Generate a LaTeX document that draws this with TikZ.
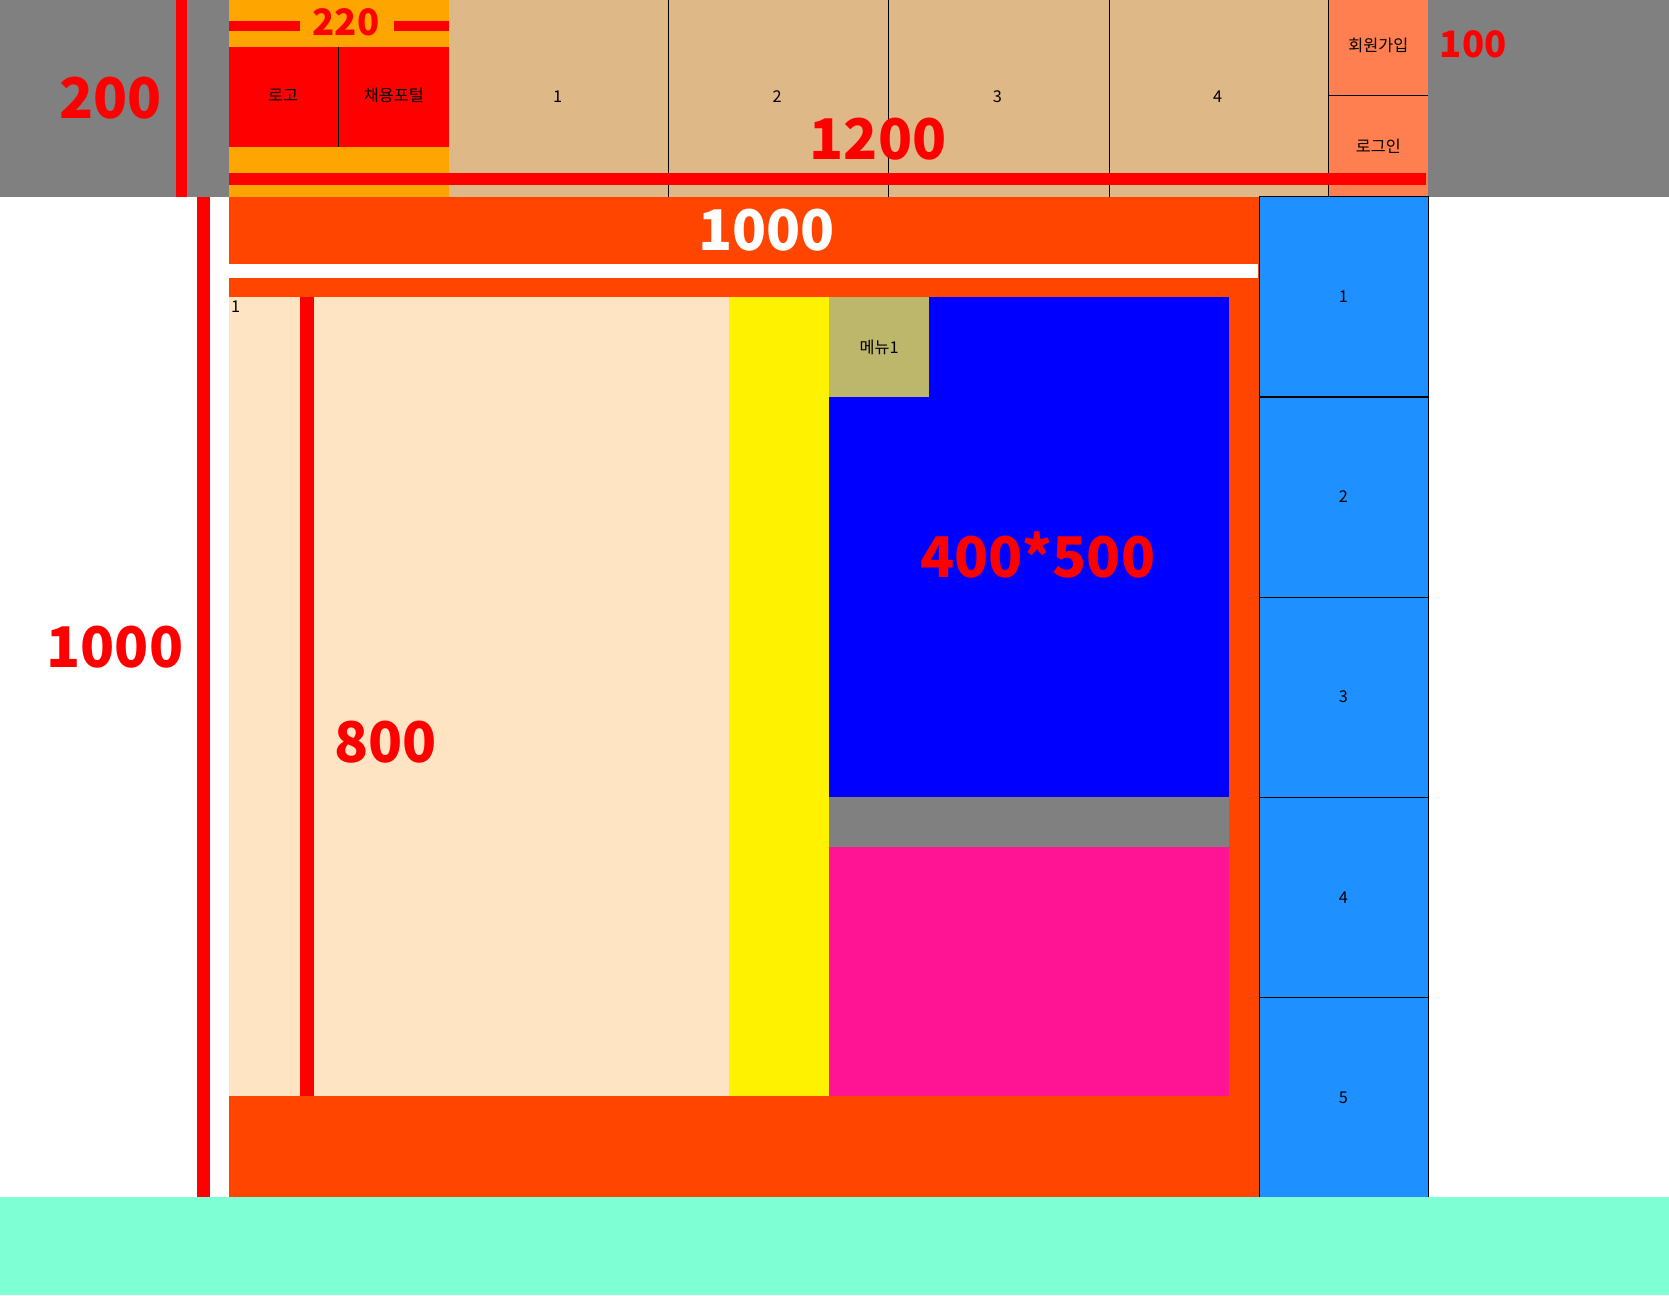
\documentclass[tikz,border=0pt]{standalone}
\usepackage{fontspec}
\setmainfont{Noto Sans CJK KR}
\usepackage{tikz}

\definecolor{hdrgray}{HTML}{808080}
\definecolor{logoorange}{HTML}{FFA500}
\definecolor{navtan}{HTML}{DEB887}
\definecolor{usercoral}{HTML}{FF7F50}
\definecolor{mainred}{HTML}{FF4500}
\definecolor{leftbisque}{HTML}{FFE4C4}
\definecolor{menukhaki}{HTML}{BDB76B}
\definecolor{boxpink}{HTML}{FF1493}
\definecolor{sideblue}{HTML}{1E90FF}
\definecolor{footaqua}{HTML}{7FFFD4}

\tikzset{
  dimtxt/.style={text=red,font=\bfseries\fontsize{30}{30}\selectfont},
  dimsmall/.style={text=red,font=\bfseries\fontsize{19.5}{19.5}\selectfont},
  celltxt/.style={font=\fontsize{8.7}{8.7}\selectfont},
  cellline/.style={line width=0.6pt,draw=black},
}

\begin{document}
\begin{tikzpicture}[x=0.2mm,y=-0.2mm]
\useasboundingbox (0,0) rectangle (1568,1217);
% header
\fill[hdrgray] (0,0) rectangle (1568,185);
\fill[red] (165,0) rectangle (176,185);
\node[dimtxt] (hdim) at (104,92) {200};
\fill[logoorange] (215,0) rectangle (422,185);
\fill[red] (215,20) rectangle (282,29);
\fill[red] (370,20) rectangle (422,29);
\node[dimsmall] (logodim) at (325,21) {220};
\fill[red] (215,44) rectangle (422,138);
\draw[cellline] (318,44) -- (318,138);
\node[celltxt] (logo) at (266,90) {로고};
\node[celltxt] (portal) at (370,90) {채용포털};
\fill[navtan] (422,0) rectangle (1248,185);
\draw[cellline] (628,0) -- (628,185);
\draw[cellline] (835,0) -- (835,185);
\draw[cellline] (1042,0) -- (1042,185);
\node[celltxt] (nav1) at (524,91) {1};
\node[celltxt] (nav2) at (730,91) {2};
\node[celltxt] (nav3) at (937,91) {3};
\node[celltxt] (nav4) at (1144,91) {4};
\fill[usercoral] (1248,0) rectangle (1342,185);
\draw[cellline] (1248,0) -- (1248,185);
\draw[cellline] (1248,90) -- (1342,90);
\node[celltxt] (join) at (1295,43) {회원가입};
\node[celltxt] (login) at (1295,137) {로그인};
\node[dimsmall] (userdim) at (1384,42) {100};
\fill[red] (215,163) rectangle (1340,174);
\node[dimtxt] (wdim) at (825,131) {1200};
% main
\fill[red] (185,185) rectangle (197,1125);
\node[dimtxt] (mdim) at (108,608) {1000};
\fill[mainred] (215,185) rectangle (1183,1125);
\node[dimtxt,text=white] (cdim) at (720,216) {1000};
\fill[white] (215,248) rectangle (1182,261);
\fill[leftbisque] (215,279) rectangle (685,1030);
\node[celltxt,anchor=north west,inner sep=1pt] (left1) at (215,281) {1};
\fill[red] (282,279) rectangle (295,1030);
\node[dimtxt] (ldim) at (362,697) {800};
\fill[yellow] (685,279) rectangle (779,1030);
\fill[blue] (779,279) rectangle (1155,749);
\fill[menukhaki] (779,279) rectangle (873,373);
\node[celltxt] (menu1) at (826,326) {메뉴1};
\node[dimtxt] (bdim) at (975,521) {400*500};
\fill[hdrgray] (779,749) rectangle (1155,796);
\fill[boxpink] (779,796) rectangle (1155,1030);
% side
\filldraw[sideblue,cellline] (1183,185) rectangle (1342,373);
\filldraw[sideblue,cellline] (1183,373) rectangle (1342,561);
\filldraw[sideblue,cellline] (1183,561) rectangle (1342,749);
\filldraw[sideblue,cellline] (1183,749) rectangle (1342,937);
\filldraw[sideblue,cellline] (1183,937) rectangle (1342,1125);
\node[celltxt] (side1) at (1262,279) {1};
\node[celltxt] (side2) at (1262,467) {2};
\node[celltxt] (side3) at (1262,655) {3};
\node[celltxt] (side4) at (1262,843) {4};
\node[celltxt] (side5) at (1262,1031) {5};
% footer
\fill[footaqua] (0,1125) rectangle (1568,1217);
\end{tikzpicture}
\end{document}
